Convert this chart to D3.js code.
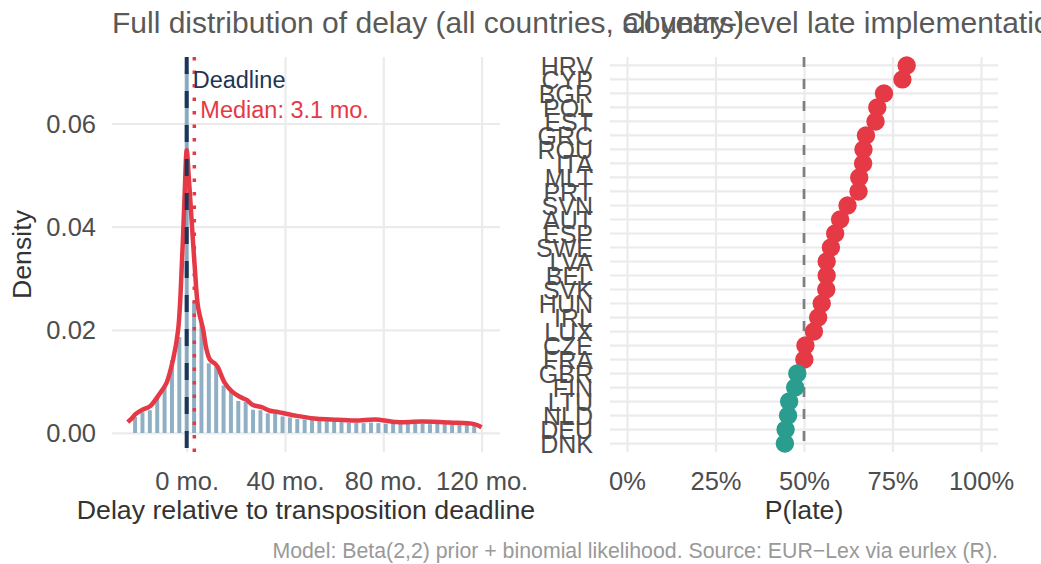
<!DOCTYPE html>
<html>
<head>
<meta charset="utf-8">
<script src="https://cdn.jsdelivr.net/npm/d3@7"></script>
<style>
  html, body { margin: 0; padding: 0; background: #fff; }
  svg { display: block; font-family: "Liberation Sans", Arial, Helvetica, sans-serif; }
</style>
</head>
<body>
<svg id="chart" width="1041" height="564"></svg>
<script>
// Histogram of delays (bin centres, months) and their densities
const binCenters = [-21, -18, -15, -12, -9, -6, -3, 0, 3, 6, 9, 12, 15, 18, 21, 24, 27, 30, 33, 36,
  39, 42, 45, 48, 51, 54, 57, 60, 63, 66, 69, 72, 75, 78, 81, 84, 87, 90, 93, 96,
  99, 102, 105, 108, 111, 114, 117];
const binDensity = [0.0031, 0.0040, 0.0044, 0.0069, 0.0088, 0.0141, 0.0186, 0.0703, 0.0255, 0.0212,
  0.0135, 0.0128, 0.0092, 0.0080, 0.0062, 0.0060, 0.0045, 0.0044, 0.0038, 0.0037,
  0.0032, 0.0030, 0.0027, 0.0026, 0.0025, 0.0024, 0.0023, 0.0022, 0.0021, 0.0020,
  0.0020, 0.0019, 0.0020, 0.0019, 0.0018, 0.0019, 0.0018, 0.0019, 0.0018, 0.0018,
  0.0017, 0.0018, 0.0017, 0.0017, 0.0017, 0.0016, 0.0016];
const binWidth = 3;

// Kernel density estimate of the same delays
const kdeMonths = [-24, -22, -21, -18, -15.5, -14.4, -11, -8.3, -5.6, -3.5, -1.9, -0.8, 0, 0.8, 1.9, 3.3,
  4.6, 6.7, 8, 9.6, 11.4, 12.6, 15.5, 18.5, 21.6, 24.4, 27, 30.5, 33.9, 36.6, 38.6, 44.8,
  52, 59, 68.6, 76.7, 82, 85.6, 96, 107, 117, 120];
const kdeDensity = [0.0021, 0.0030, 0.0036, 0.0045, 0.0050, 0.0054, 0.0076, 0.0096, 0.0141, 0.0199, 0.0335, 0.0468, 0.0548, 0.0500, 0.0420, 0.0320,
  0.0245, 0.0200, 0.0163, 0.0141, 0.0135, 0.0128, 0.0097, 0.0080, 0.0070, 0.0064, 0.0054, 0.0050, 0.0043, 0.0041, 0.0039, 0.0033,
  0.0028, 0.0026, 0.0024, 0.0026, 0.0023, 0.0021, 0.0022, 0.0020, 0.0017, 0.0011];

const medianDelay = 3.1;
const densityTicks = [0, 0.02, 0.04, 0.06];
const delayTicks = [0, 40, 80, 120];

// Posterior probability of late transposition by country
const countries = ["HRV", "CYP", "BGR", "POL", "EST", "GRC", "ROU", "ITA", "MLT", "PRT", "SVN", "AUT", "ESP", "SWE",
  "LVA", "BEL", "SVK", "HUN", "IRL", "LUX", "CZE", "FRA", "GBR", "FIN", "LTU", "NLD", "DEU", "DNK"];
const pLate = [0.790, 0.778, 0.726, 0.707, 0.702, 0.675, 0.668, 0.667, 0.656, 0.654, 0.623, 0.602, 0.588, 0.576,
  0.564, 0.564, 0.563, 0.550, 0.540, 0.528, 0.504, 0.501, 0.481, 0.475, 0.458, 0.455, 0.448, 0.446];
const pTicks = [0, 0.25, 0.5, 0.75, 1];

const colors = { red: "#E63946", teal: "#2A9D8F", navy: "#1D3557", bar: "#457B9D", grid: "#EBEBEB" };
const tickSize = 25.5;

const svg = d3.select("#chart");
const panelTop = 57, panelBottom = 452;

// ---------- left panel: delay distribution ----------
const xL = d3.scaleLinear().domain([-30.4, 127.5]).range([112, 500]);
const yL = d3.scaleLinear().domain([-0.0037, 0.0729]).range([panelBottom, panelTop]);
const left = svg.append("g");

left.append("g").call(d3.axisLeft(yL).tickValues(densityTicks).tickSize(-(xL.range()[1] - xL.range()[0])).tickFormat(d3.format(".2f")))
  .attr("transform", `translate(${xL.range()[0]},0)`)
  .call(g => g.select(".domain").remove())
  .call(g => g.selectAll(".tick line").attr("stroke", colors.grid).attr("stroke-width", 2.2))
  .call(g => g.selectAll(".tick text").attr("x", -16).attr("fill", "#4D4D4D").attr("font-size", tickSize).attr("dy", "0.35em"));

left.append("g").call(d3.axisBottom(xL).tickValues(delayTicks).tickSize(-(panelBottom - panelTop)).tickFormat(d => `${d} mo.`))
  .attr("transform", `translate(0,${panelBottom})`)
  .call(g => g.select(".domain").remove())
  .call(g => g.selectAll(".tick line").attr("stroke", colors.grid).attr("stroke-width", 2.2))
  .call(g => g.selectAll(".tick text").attr("y", 37.5).attr("dy", 0).attr("fill", "#4D4D4D").attr("font-size", tickSize));

const pxPerBin = xL(binWidth) - xL(0);
left.append("g").selectAll("rect").data(binCenters).join("rect")
  .attr("x", (d) => xL(d) - pxPerBin / 2 + 1.7)
  .attr("width", pxPerBin - 3.4)
  .attr("y", (d, i) => yL(binDensity[i]))
  .attr("height", (d, i) => yL(0) - yL(binDensity[i]))
  .attr("fill", colors.bar).attr("fill-opacity", 0.6);

const kde = d3.line().x(d => xL(d[0])).y(d => yL(d[1])).curve(d3.curveCatmullRom.alpha(0.5));
left.append("path").datum(kdeMonths.map((m, i) => [m, kdeDensity[i]]))
  .attr("d", kde).attr("fill", "none").attr("stroke", colors.red)
  .attr("stroke-width", 4.5).attr("stroke-linejoin", "round").attr("stroke-linecap", "butt");

left.append("line").attr("x1", xL(0)).attr("x2", xL(0)).attr("y1", panelTop).attr("y2", panelBottom)
  .attr("stroke", colors.navy).attr("stroke-width", 4).attr("stroke-dasharray", "17 17");
left.append("line").attr("x1", xL(medianDelay)).attr("x2", xL(medianDelay)).attr("y1", panelTop).attr("y2", panelBottom)
  .attr("stroke", colors.red).attr("stroke-width", 3.5).attr("stroke-dasharray", "3.5 10");

left.append("text").attr("x", xL(0) + 6).attr("y", 88).attr("fill", colors.navy).attr("font-size", 23.5).text("Deadline");
left.append("text").attr("x", xL(medianDelay) + 6).attr("y", 118).attr("fill", colors.red).attr("font-size", 23.5)
  .text(`Median: ${medianDelay} mo.`);

left.append("text").attr("x", (xL.range()[0] + xL.range()[1]) / 2).attr("y", 519).attr("text-anchor", "middle")
  .attr("fill", "#333").attr("font-size", 26.7).text("Delay relative to transposition deadline");
left.append("text").attr("transform", `translate(31,${(panelTop + panelBottom) / 2}) rotate(-90)`).attr("text-anchor", "middle")
  .attr("fill", "#333").attr("font-size", 26.7).text("Density");

// ---------- right panel: probability of late implementation ----------
const xR = d3.scaleLinear().domain([-0.048, 1.048]).range([610, 998]);
const yR = d3.scalePoint().domain(countries).range([panelTop, panelBottom]).padding(0.6);
const right = svg.append("g");

right.append("g").selectAll("line").data(countries).join("line")
  .attr("x1", xR.range()[0]).attr("x2", xR.range()[1]).attr("y1", d => yR(d)).attr("y2", d => yR(d))
  .attr("stroke", colors.grid).attr("stroke-width", 2.2);

right.append("g").call(d3.axisBottom(xR).tickValues(pTicks).tickSize(-(panelBottom - panelTop)).tickFormat(d3.format(".0%")))
  .attr("transform", `translate(0,${panelBottom})`)
  .call(g => g.select(".domain").remove())
  .call(g => g.selectAll(".tick line").attr("stroke", colors.grid).attr("stroke-width", 2.2))
  .call(g => g.selectAll(".tick text").attr("y", 37.5).attr("dy", 0).attr("fill", "#4D4D4D").attr("font-size", tickSize));

right.append("g").call(d3.axisLeft(yR).tickSize(0))
  .attr("transform", `translate(${xR.range()[0]},0)`)
  .call(g => g.select(".domain").remove())
  .call(g => g.selectAll(".tick text").attr("x", -17).attr("dy", "0.36em").attr("fill", "#4D4D4D").attr("font-size", 25));

right.append("line").attr("x1", xR(0.5)).attr("x2", xR(0.5)).attr("y1", panelTop).attr("y2", panelBottom)
  .attr("stroke", "#7F7F7F").attr("stroke-width", 2.7).attr("stroke-dasharray", "10 12");

right.append("g").selectAll("circle").data(countries).join("circle")
  .attr("cx", (d, i) => xR(pLate[i])).attr("cy", d => yR(d)).attr("r", 9.2)
  .attr("fill", (d, i) => pLate[i] > 0.5 ? colors.red : colors.teal);

right.append("text").attr("x", (xR.range()[0] + xR.range()[1]) / 2).attr("y", 519).attr("text-anchor", "middle")
  .attr("fill", "#333").attr("font-size", 26.7).text("P(late)");

// ---------- titles and caption ----------
svg.append("text").attr("x", xL.range()[0]).attr("y", 33).attr("fill", "#595959").attr("font-size", 30)
  .text("Full distribution of delay (all countries, all years)");
svg.append("text").attr("x", 622).attr("y", 33).attr("fill", "#595959").attr("font-size", 30)
  .text("Country-level late implementation probability");
svg.append("text").attr("x", 998).attr("y", 558).attr("text-anchor", "end").attr("fill", "#999").attr("font-size", 21.3)
  .text("Model: Beta(2,2) prior + binomial likelihood. Source: EUR\u2212Lex via eurlex (R).");
</script>
</body>
</html>
